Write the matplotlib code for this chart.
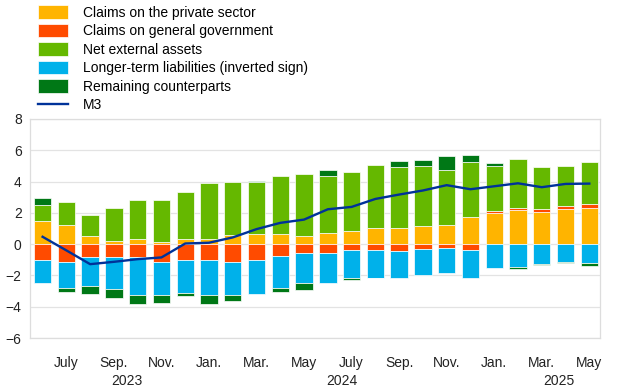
import numpy as np
import matplotlib
matplotlib.use('Agg')
import matplotlib.pyplot as plt

plt.rcParams['font.family'] = ['Liberation Sans', 'DejaVu Sans']

# monthly contributions, June 2023 - May 2025 (percentage points)
private = [1.47, 1.21, 0.51, 0.17, 0.36, 0.13, 0.32, 0.34, 0.57, 0.68, 0.62, 0.51,
           0.72, 0.81, 1.06, 1.06, 1.17, 1.23, 1.74, 2.00, 2.17, 2.06, 2.26, 2.34]
government = [-1.00, -1.11, -0.81, -0.83, -0.81, -1.11, -1.04, -1.00, -1.13, -1.00, -0.74, -0.57,
              -0.55, -0.38, -0.40, -0.45, -0.30, -0.23, -0.38, 0.13, 0.13, 0.17, 0.17, 0.23]
net_external = [1.02, 1.49, 1.36, 2.11, 2.45, 2.72, 3.02, 3.57, 3.41, 3.30, 3.74, 3.98,
                3.64, 3.83, 4.03, 3.90, 3.81, 3.54, 3.52, 2.85, 3.13, 2.73, 2.57, 2.66]
longer_term = [-1.47, -1.68, -1.85, -2.04, -2.45, -2.15, -2.11, -2.28, -2.15, -2.19, -2.07, -1.94,
               -1.96, -1.81, -1.75, -1.74, -1.68, -1.64, -1.81, -1.53, -1.45, -1.28, -1.11, -1.23]
remaining = [0.47, -0.25, -0.51, -0.56, -0.57, -0.48, -0.17, -0.57, -0.34, 0.08, -0.25, -0.45,
             0.36, -0.11, -0.04, 0.36, 0.40, 0.87, 0.44, 0.23, -0.12, -0.08, -0.08, -0.17]
m3 = [0.47, -0.40, -1.28, -1.13, -0.96, -0.85, 0.04, 0.09, 0.43, 0.96, 1.36, 1.57,
      2.23, 2.38, 2.89, 3.17, 3.43, 3.77, 3.51, 3.70, 3.89, 3.64, 3.85, 3.87]

month_labels = ['July', 'Sep.', 'Nov.', 'Jan.', 'Mar.', 'May'] * 2
years = ['2023', '2024', '2025']
year_pos = [3.55, 12.6, 21.7]

series = [
    ('Claims on the private sector', private, '#FFB400'),
    ('Claims on general government', government, '#FF4B00'),
    ('Net external assets', net_external, '#65B800'),
    ('Longer-term liabilities (inverted sign)', longer_term, '#00B1EA'),
    ('Remaining counterparts', remaining, '#007816'),
]

x = np.arange(len(m3))
fig = plt.figure(figsize=(6.2, 3.87), dpi=100)
ax = fig.add_axes([30 / 620, 1 - 338 / 387, 570 / 620, 219 / 387])

handles = []
pos_base = np.zeros(len(x))
neg_base = np.zeros(len(x))
for label, vals, color in series:
    vals = np.array(vals)
    bottom = np.where(vals >= 0, pos_base, neg_base)
    b = ax.bar(x, vals, width=0.73, bottom=bottom, color=color, label=label,
               edgecolor='white', linewidth=0.5, zorder=2)
    handles.append(b)
    pos_base += np.where(vals >= 0, vals, 0)
    neg_base += np.where(vals < 0, vals, 0)

line, = ax.plot(x, m3, color='#003299', linewidth=1.7, label='M3', zorder=3)
handles.append(line)

ax.set_ylim(-6, 8)
ax.set_yticks(range(-6, 9, 2))
ax.set_xlim(-0.53, 23.45)
ax.set_xticks(x[1::2])
ax.set_xticklabels(month_labels)
ax.tick_params(length=0, labelsize=10, colors='#222222')
ax.tick_params(axis='y', pad=6)
ax.tick_params(axis='x', pad=13)
ax.grid(axis='y', color='#e3e3e3', linewidth=0.9, zorder=0)
ax.set_axisbelow(True)
for s in ax.spines.values():
    s.set_color('#dddddd')
    s.set_linewidth(0.9)

for yr, xp in zip(years, year_pos):
    ax.text(xp, -0.197, yr, transform=ax.get_xaxis_transform(), ha='center', va='center',
            fontsize=10, color='#222222')

fig.legend(handles=handles, loc='upper left', bbox_to_anchor=(30 / 620, 1.008), frameon=False,
           fontsize=10, handlelength=2.1, handleheight=1.1, handletextpad=1.1,
           labelspacing=0.3, borderaxespad=0.2)

fig.savefig('out.png', dpi=100)
